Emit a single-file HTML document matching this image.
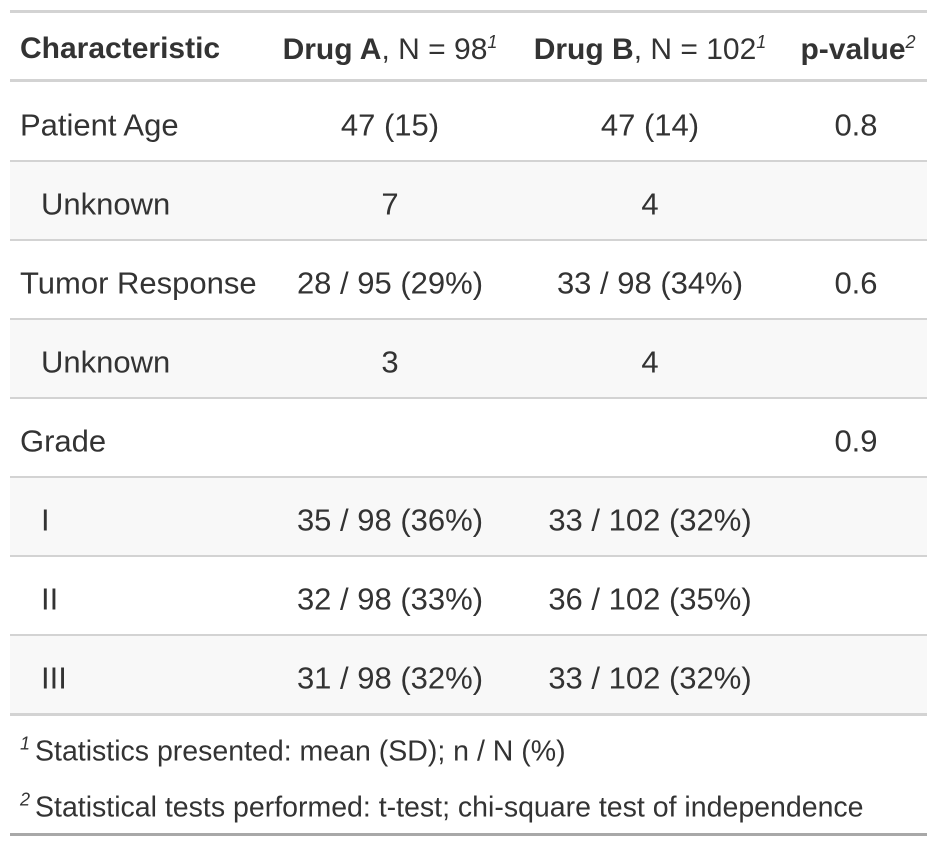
<!DOCTYPE html>
<html><head><style>
body{margin:0;background:#fff;width:937px;height:847px;position:relative;font-family:"Liberation Sans",sans-serif;color:#333;font-size:31px;overflow:hidden}
.h{position:absolute;left:10px;width:917px}
.t{position:absolute;white-space:nowrap;transform:translateY(-50%);line-height:1}
.c{transform:translate(-50%,-50%)}
sup{font-size:18px;font-style:italic;vertical-align:11px}
.f sup{margin-right:5px}
</style></head><body>
<div class="h" style="top:10px;height:3px;background:#d3d3d3"></div>
<div class="h" style="top:79px;height:3px;background:#d3d3d3"></div>
<div class="h" style="top:160px;height:79px;background:#f8f8f8"></div>
<div class="h" style="top:318px;height:79px;background:#f8f8f8"></div>
<div class="h" style="top:476px;height:79px;background:#f8f8f8"></div>
<div class="h" style="top:634px;height:79px;background:#f8f8f8"></div>
<div class="h" style="top:160px;height:2px;background:#d3d3d3"></div>
<div class="h" style="top:239px;height:2px;background:#d3d3d3"></div>
<div class="h" style="top:318px;height:2px;background:#d3d3d3"></div>
<div class="h" style="top:397px;height:2px;background:#d3d3d3"></div>
<div class="h" style="top:476px;height:2px;background:#d3d3d3"></div>
<div class="h" style="top:555px;height:2px;background:#d3d3d3"></div>
<div class="h" style="top:634px;height:2px;background:#d3d3d3"></div>
<div class="h" style="top:713px;height:3px;background:#d3d3d3"></div>
<div class="h" style="top:833px;height:3px;background:#a8a8a8"></div>

<div class="t" style="left:20px;top:49px;font-weight:bold;font-size:30px">Characteristic</div>
<div class="t c" style="left:390px;top:49px;font-size:30px"><b>Drug A</b>, N = 98<sup>1</sup></div>
<div class="t c" style="left:650px;top:49px;font-size:30px"><b>Drug B</b>, N = 102<sup>1</sup></div>
<div class="t c" style="left:858px;top:49px;font-size:30px"><b>p-value</b><sup>2</sup></div>

<div class="t" style="left:20px;top:125px">Patient Age</div>
<div class="t c" style="left:390px;top:125px">47 (15)</div>
<div class="t c" style="left:650px;top:125px">47 (14)</div>
<div class="t c" style="left:856px;top:125px">0.8</div>

<div class="t" style="left:41px;top:204px">Unknown</div>
<div class="t c" style="left:390px;top:204px">7</div>
<div class="t c" style="left:650px;top:204px">4</div>

<div class="t" style="left:20px;top:283px">Tumor Response</div>
<div class="t c" style="left:390px;top:283px">28 / 95 (29%)</div>
<div class="t c" style="left:650px;top:283px">33 / 98 (34%)</div>
<div class="t c" style="left:856px;top:283px">0.6</div>

<div class="t" style="left:41px;top:362px">Unknown</div>
<div class="t c" style="left:390px;top:362px">3</div>
<div class="t c" style="left:650px;top:362px">4</div>

<div class="t" style="left:20px;top:441px">Grade</div>
<div class="t c" style="left:856px;top:441px">0.9</div>

<div class="t" style="left:41px;top:520px">I</div>
<div class="t c" style="left:390px;top:520px">35 / 98 (36%)</div>
<div class="t c" style="left:650px;top:520px">33 / 102 (32%)</div>

<div class="t" style="left:41px;top:599px">II</div>
<div class="t c" style="left:390px;top:599px">32 / 98 (33%)</div>
<div class="t c" style="left:650px;top:599px">36 / 102 (35%)</div>

<div class="t" style="left:41px;top:678px">III</div>
<div class="t c" style="left:390px;top:678px">31 / 98 (32%)</div>
<div class="t c" style="left:650px;top:678px">33 / 102 (32%)</div>

<div class="t f" style="left:20px;top:750px;font-size:28.5px"><sup>1</sup>Statistics presented: mean (SD); n / N (%)</div>
<div class="t f" style="left:20px;top:806px;font-size:28.5px"><sup>2</sup>Statistical tests performed: t-test; chi-square test of independence</div>
</body></html>
